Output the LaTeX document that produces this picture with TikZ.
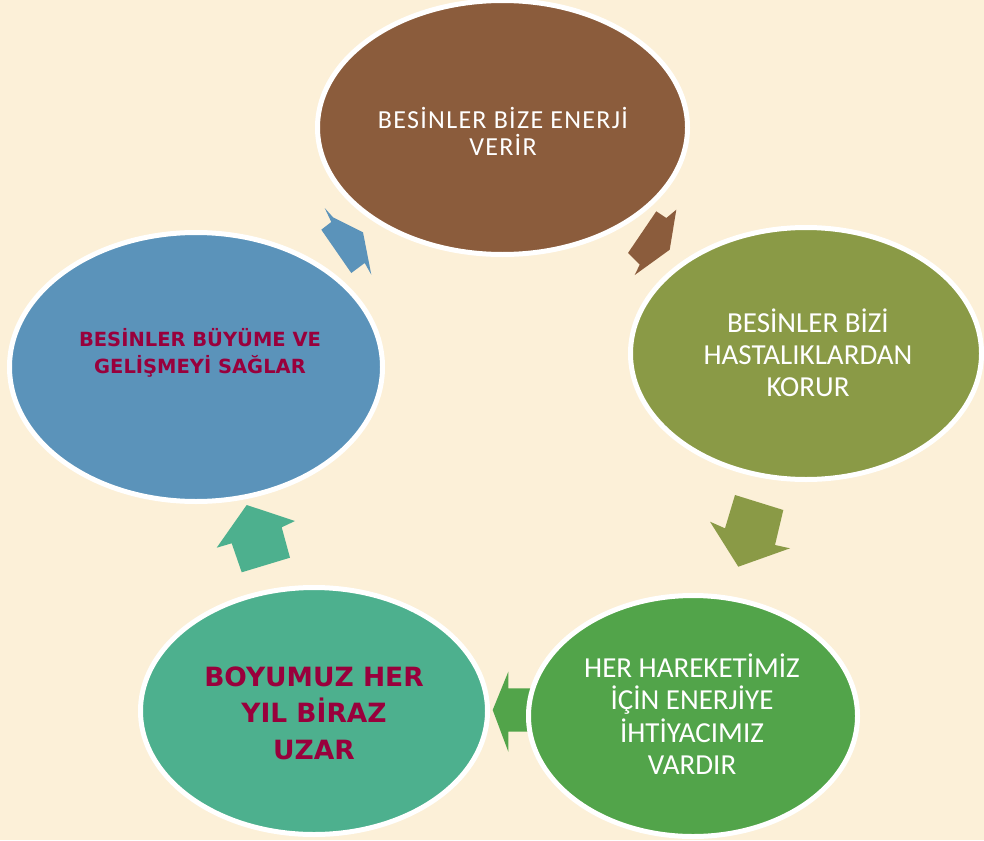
\documentclass[tikz,border=0pt]{standalone}
\usepackage{fontspec}
\setmainfont{Carlito}
\newfontfamily\comicfont{DejaVu Sans}
\newfontfamily\widefont[LetterSpace=5]{Carlito}
\usetikzlibrary{shapes.geometric}
\definecolor{bg}{RGB}{252,240,216}
\definecolor{cbrown}{RGB}{139,92,60}
\definecolor{colive}{RGB}{138,154,70}
\definecolor{cgreen}{RGB}{82,164,74}
\definecolor{cteal}{RGB}{77,176,142}
\definecolor{cblue}{RGB}{91,147,186}
\definecolor{crim}{RGB}{153,0,60}
\begin{document}
\begin{tikzpicture}[x=1pt,y=-1pt,
  blob/.style={ellipse, draw=white, line width=5pt, inner sep=0pt, outer sep=0pt},
  wtext/.style={text=white, align=center, inner sep=0pt},
  rtext/.style={text=crim, align=center, inner sep=0pt},
  blockarrow/.style={draw=none}]
\useasboundingbox (0,0) rectangle (984,840);
\fill[bg] (0,0) rectangle (984,840);

% block arrows (drawn first, ellipses overlap them)
\coordinate (ba1) at (324.7,208);
\fill[cblue, blockarrow] (ba1) -- (333,217.3) -- (363,232.3) -- (371.3,274.7) -- (364.7,263) -- (351.3,273) -- (321.3,229.7) -- (331.3,222) -- cycle;
\coordinate (ba2) at (656.3,211.3);
\fill[cbrown, blockarrow] (ba2) -- (666.3,218) -- (676.3,209.7) -- (669.7,249.7) -- (634.7,275) -- (639.7,264.7) -- (628,253) -- cycle;
\coordinate (ba3) at (735,495);
\fill[colive, blockarrow] (ba3) -- (783.3,510) -- (775,545) -- (790,548.3) -- (738.3,566.7) -- (710,521.7) -- (725,528.3) -- cycle;
\coordinate (ba4) at (492.7,710);
\fill[cgreen, blockarrow] (ba4) -- (508.3,671.7) -- (508.3,688.3) -- (545,688.3) -- (545,731.7) -- (508.3,731.7) -- (508.3,751.7) -- cycle;
\coordinate (ba5) at (246.7,505);
\fill[cteal, blockarrow] (ba5) -- (295,521) -- (281.7,527.3) -- (290,557.7) -- (241.7,572.3) -- (231.7,543.3) -- (216.7,547.7) -- cycle;

% ellipses
\node[blob, fill=cbrown, minimum width=370pt, minimum height=254pt] (e1) at (502.5,127.5) {};
\node[blob, fill=colive, minimum width=351pt, minimum height=252pt] (e2) at (806,353.5) {};
\node[blob, fill=cgreen, minimum width=329pt, minimum height=241pt] (e3) at (693,716) {};
\node[blob, fill=cteal, minimum width=347pt, minimum height=247pt] (e4) at (314,711) {};
\node[blob, fill=cblue, minimum width=373pt, minimum height=269pt] (e5) at (196,367) {};

% texts
\node[wtext, font=\widefont\fontsize{26}{27}\selectfont] (t1) at (503,131) {BESİNLER BİZE ENERJİ\\VERİR};
\node[wtext, font=\fontsize{29}{32}\selectfont] (t2) at (808,353) {BESİNLER BİZİ\\HASTALIKLARDAN\\KORUR};
\node[wtext, font=\fontsize{29}{32.4}\selectfont] (t3) at (692,714) {HER HAREKETİMİZ\\İÇİN ENERJİYE\\İHTİYACIMIZ\\VARDIR};
\node[rtext, font=\comicfont\bfseries\fontsize{26.5}{36.5}\selectfont] (t4) at (314,713) {BOYUMUZ HER\\YIL BİRAZ\\UZAR};
\node[rtext, font=\comicfont\bfseries\fontsize{19.5}{27}\selectfont] (t5) at (200,353) {BESİNLER BÜYÜME VE\\GELİŞMEYİ SAĞLAR};
\end{tikzpicture}
\end{document}
